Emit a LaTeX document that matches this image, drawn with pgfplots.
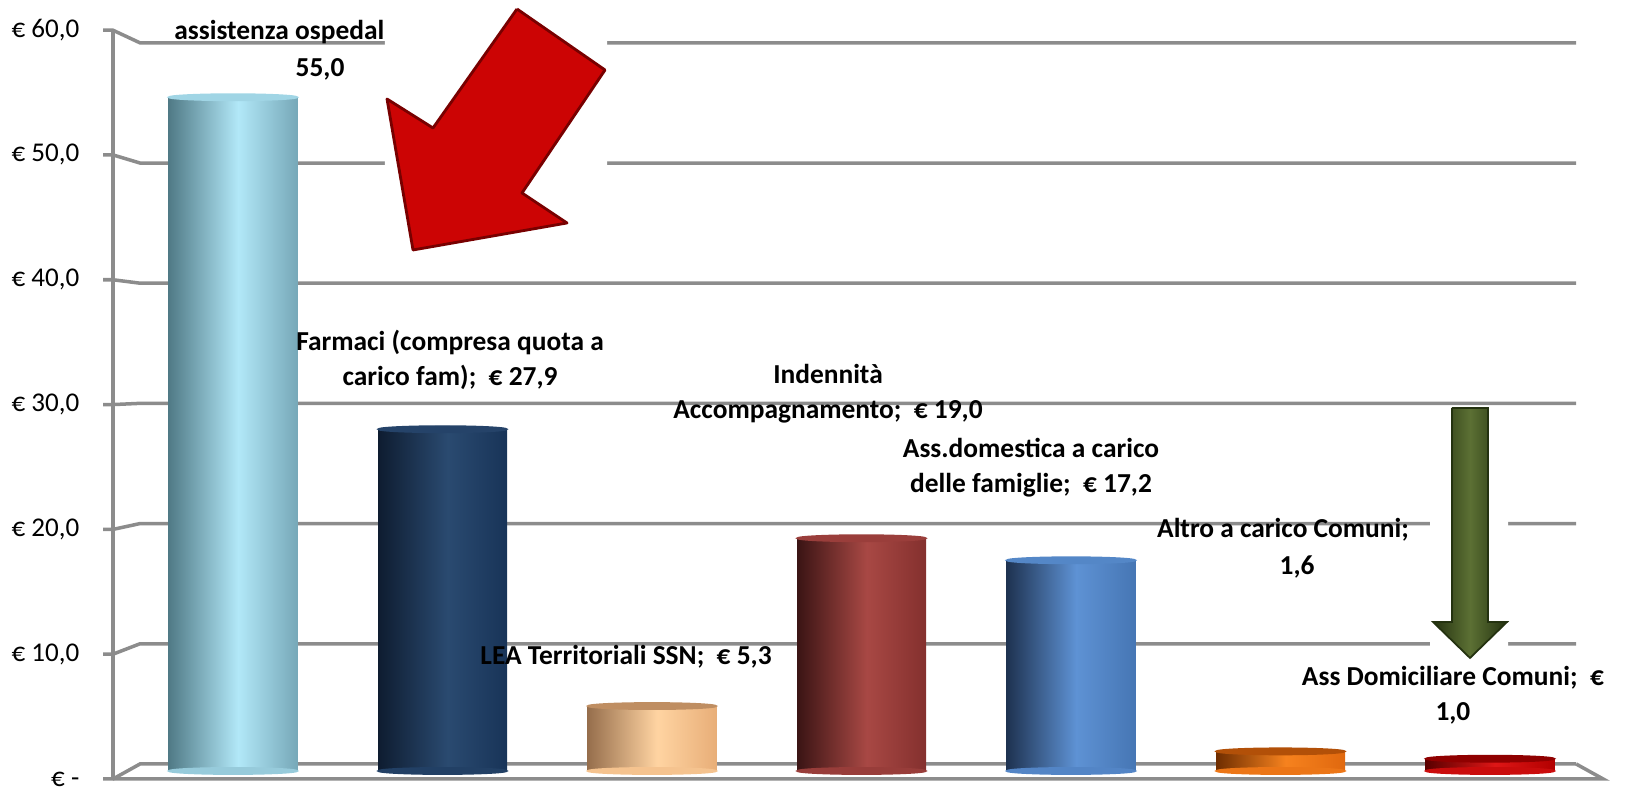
\documentclass[border=0pt]{standalone}
\usepackage{fontspec}
\setmainfont{Carlito}
\usepackage{pgfplots}
\pgfplotsset{compat=1.18}

\definecolor{gridc}{RGB}{140,140,140}
\definecolor{aL}{RGB}{80,122,134}\definecolor{aM}{RGB}{178,232,248}\definecolor{aR}{RGB}{118,168,184}
\definecolor{bL}{RGB}{14,28,48}\definecolor{bM}{RGB}{42,74,112}\definecolor{bR}{RGB}{24,52,88}
\definecolor{cL}{RGB}{150,110,76}\definecolor{cM}{RGB}{255,212,162}\definecolor{cR}{RGB}{232,174,120}
\definecolor{dL}{RGB}{58,20,20}\definecolor{dM}{RGB}{168,72,68}\definecolor{dR}{RGB}{132,48,46}
\definecolor{eL}{RGB}{30,50,80}\definecolor{eM}{RGB}{94,146,212}\definecolor{eR}{RGB}{70,118,180}
\definecolor{fL}{RGB}{110,45,0}\definecolor{fM}{RGB}{246,130,30}\definecolor{fR}{RGB}{224,104,14}
\definecolor{gL}{RGB}{90,0,0}\definecolor{gM}{RGB}{222,22,22}\definecolor{gR}{RGB}{178,0,0}
\definecolor{grL}{RGB}{36,50,16}\definecolor{grM}{RGB}{92,112,52}\definecolor{grR}{RGB}{36,50,16}
\definecolor{arrR}{RGB}{204,4,4}\definecolor{arrD}{RGB}{120,0,0}

\pgfdeclarehorizontalshading{cylA}{100bp}{color(0bp)=(aL); color(25bp)=(aL); color(52bp)=(aM); color(75bp)=(aR); color(100bp)=(aR)}
\pgfdeclarehorizontalshading{cylB}{100bp}{color(0bp)=(bL); color(25bp)=(bL); color(52bp)=(bM); color(75bp)=(bR); color(100bp)=(bR)}
\pgfdeclarehorizontalshading{cylC}{100bp}{color(0bp)=(cL); color(25bp)=(cL); color(52bp)=(cM); color(75bp)=(cR); color(100bp)=(cR)}
\pgfdeclarehorizontalshading{cylD}{100bp}{color(0bp)=(dL); color(25bp)=(dL); color(52bp)=(dM); color(75bp)=(dR); color(100bp)=(dR)}
\pgfdeclarehorizontalshading{cylE}{100bp}{color(0bp)=(eL); color(25bp)=(eL); color(52bp)=(eM); color(75bp)=(eR); color(100bp)=(eR)}
\pgfdeclarehorizontalshading{cylF}{100bp}{color(0bp)=(fL); color(25bp)=(fL); color(52bp)=(fM); color(75bp)=(fR); color(100bp)=(fR)}
\pgfdeclarehorizontalshading{cylG}{100bp}{color(0bp)=(gL); color(25bp)=(gL); color(52bp)=(gM); color(75bp)=(gR); color(100bp)=(gR)}
\pgfdeclarehorizontalshading{greenarr}{100bp}{color(0bp)=(grL); color(25bp)=(grL); color(50bp)=(grM); color(75bp)=(grR); color(100bp)=(grR)}

\newcommand\lbl{\fontsize{7.8}{9.96}\selectfont\bfseries}

\pgfplotsset{
  gridline/.style={gridc, line width=1pt},
  cyl/.style={ybar, bar width=12.9mm, bar shift=0pt, draw=none, shade, shading=#1},
  cap/.style={only marks, color=#1, draw=none, fill=#1, mark=*, mark size=6.45mm, mark options={yscale=0.05, draw=none, fill=#1}},
}

\begin{document}
\begin{tikzpicture}
\begin{axis}[
  x=20.95mm, y=1.225mm,
  xmin=-0.444, xmax=6.411, ymin=-0.653, ymax=60.47,
  clip=false,
  axis line style={draw=none},
  xtick=\empty,
  ytick={-0.653,9.535,19.72,29.91,40.10,50.29,60.47},
  yticklabels={{€ -\hspace{0.7mm}},{€ 10,0},{€ 20,0},{€ 30,0},{€ 40,0},{€ 50,0},{€ 60,0}},
  major tick length=0pt,
  yticklabel style={anchor=east, inner sep=0pt, xshift=-6mm, font=\fontsize{7.7}{9}\selectfont},
]
% back wall gridlines with perspective connectors
\addplot[gridline] coordinates {(-0.62,-0.653) (-0.573,-0.653) (-0.444,0.571) (6.411,0.571)};
\addplot[gridline] coordinates {(-0.62,9.535) (-0.573,9.535) (-0.444,10.384) (6.411,10.384)};
\addplot[gridline] coordinates {(-0.62,19.72) (-0.573,19.72) (-0.444,20.196) (6.411,20.196)};
\addplot[gridline] coordinates {(-0.62,29.91) (-0.573,29.91) (-0.444,30.01) (6.411,30.01)};
\addplot[gridline] coordinates {(-0.62,40.10) (-0.573,40.10) (-0.444,39.82) (6.411,39.82)};
\addplot[gridline] coordinates {(-0.62,50.29) (-0.573,50.29) (-0.444,49.63) (6.411,49.63)};
\addplot[gridline] coordinates {(-0.62,60.47) (-0.573,60.47) (-0.444,59.44) (6.411,59.44)};
\addplot[gridline] coordinates {(-0.573,-0.653) (-0.573,60.47)};
\addplot[gridline] coordinates {(-0.573,-0.653) (6.54,-0.653) (6.411,0.571)};

% white backgrounds of the arrow pictures
\addplot[fill=white, draw=none] coordinates {(0.7255,62.94) (1.7852,62.94) (1.7852,41.31) (0.7255,41.31) (0.7255,62.94)};
\addplot[fill=white, draw=none] coordinates {(5.7136,29.80) (6.0859,29.80) (6.0859,9.06) (5.7136,9.06) (5.7136,29.80)};

% arrows
\addplot[fill=arrR, draw=arrD, line width=0.8pt, line join=round] coordinates {
  (1.3556,62.204) (1.7757,57.224) (1.3795,47.184) (1.5943,44.735)
  (0.8592,42.531) (0.7351,54.857) (0.9547,52.490) (1.3556,62.204)};
\addplot[shade, shading=greenarr, draw=grL, line width=0.5pt] coordinates {
  (5.8186,29.633) (5.9905,29.633) (5.9905,12.163) (6.0812,12.163)
  (5.9045,9.224) (5.7279,12.163) (5.8186,12.163) (5.8186,29.633)};

% cylinders: bottom cap, body, top cap
\addplot[cap=aM!55!aR] coordinates {(0,0)};
\addplot[cyl=cylA] coordinates {(0,55.0)};
\addplot[cap=aM!70!aR] coordinates {(0,55.0)};
\addplot[cap=bM!55!bR] coordinates {(1,0)};
\addplot[cyl=cylB] coordinates {(1,27.9)};
\addplot[cap=bM!70!bR] coordinates {(1,27.9)};
\addplot[cap=cM!55!cR] coordinates {(2,0)};
\addplot[cyl=cylC] coordinates {(2,5.3)};
\addplot[cap=cL!50!cR] coordinates {(2,5.3)};
\addplot[cap=dM!55!dR] coordinates {(3,0)};
\addplot[cyl=cylD] coordinates {(3,19.0)};
\addplot[cap=dM!60!dR] coordinates {(3,19.0)};
\addplot[cap=eM!55!eR] coordinates {(4,0)};
\addplot[cyl=cylE] coordinates {(4,17.2)};
\addplot[cap=eM!60!eR] coordinates {(4,17.2)};
\addplot[cap=fM!55!fR] coordinates {(5,0)};
\addplot[cyl=cylF] coordinates {(5,1.6)};
\addplot[cap=fL!40!fR] coordinates {(5,1.6)};
\addplot[cap=gM!55!gR] coordinates {(6,0)};
\addplot[cyl=cylG] coordinates {(6,1.0)};
\addplot[cap=gL!40!gR] coordinates {(6,1.0)};

% data labels
\node[anchor=base east, inner sep=0pt, font=\lbl] at (axis cs:0.7255,59.71) {assistenza ospedal};
\node[anchor=base, inner sep=0pt, font=\lbl] at (axis cs:0.4153,56.73) {55,0};
\node[align=center, inner sep=0pt, font=\lbl] at (axis cs:1.036,33.55) {Farmaci (compresa quota a\\carico fam);\ \ € 27,9};
\node[inner sep=0pt, font=\lbl] at (axis cs:1.876,9.31) {LEA Territoriali SSN;\ \ € 5,3};
\node[align=center, inner sep=0pt, font=\lbl] at (axis cs:2.840,30.82) {Indennità\\Accompagnamento;\ \ € 19,0};
\node[align=center, inner sep=0pt, font=\lbl] at (axis cs:3.809,24.78) {Ass.domestica a carico\\delle famiglie;\ \ € 17,2};
\node[inner sep=0pt, font=\lbl] at (axis cs:5.012,19.67) {Altro a carico Comuni;};
\node[inner sep=0pt, font=\lbl] at (axis cs:5.079,16.65) {1,6};
\node[align=center, inner sep=0pt, font=\lbl] at (axis cs:5.823,6.20) {Ass Domiciliare Comuni;\ \ €\\1,0};

\coordinate (BL) at (axis cs:-1.1122,-1.551);
\coordinate (TR) at (axis cs:6.6730,62.939);
\end{axis}
\pgfresetboundingbox
\path[use as bounding box] (BL) rectangle (TR);
\end{tikzpicture}
\end{document}
